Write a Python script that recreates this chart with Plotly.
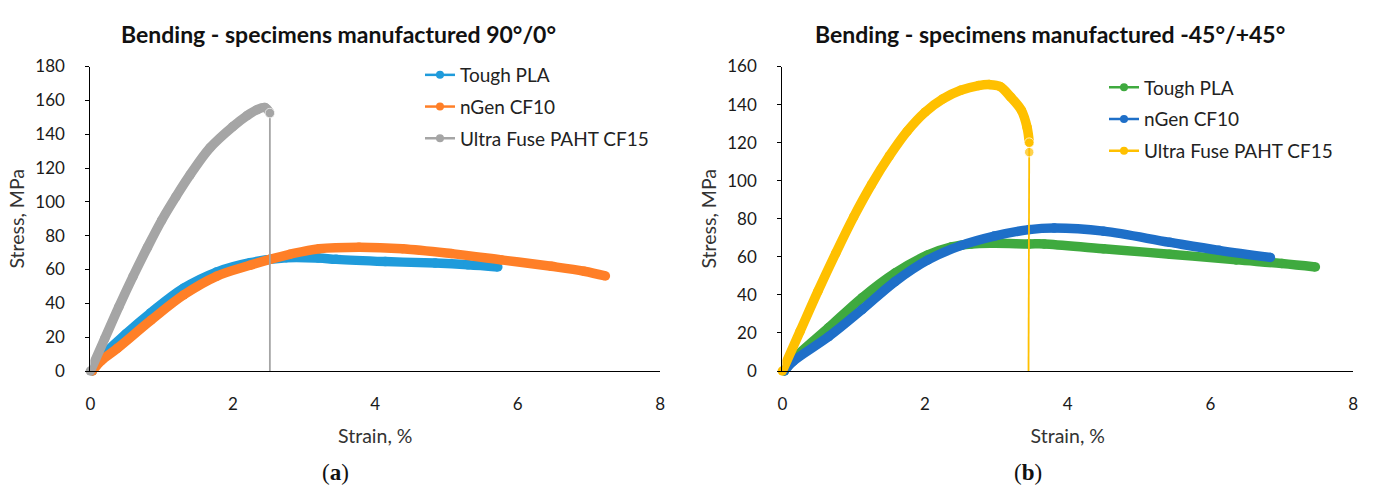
import plotly.graph_objects as go

# ---------------- data ----------------
series_names = ["Tough PLA", "nGen CF10", "Ultra Fuse PAHT CF15"]

# (a) specimens 90°/0°
pla_a_strain = [0.03, 0.15, 0.5, 0.85, 1.31, 1.77, 2.24, 2.75, 3.2, 3.45, 4.14, 4.84, 5.3, 5.72]
pla_a_stress = [0, 8, 22, 34.5, 49, 58.5, 64, 67, 66.8, 66, 64.7, 63.8, 62.8, 61.5]

ngen_a_strain = [0.03, 0.15, 0.38, 0.85, 1.31, 1.77, 2.24, 2.52, 2.8, 3.21, 3.77, 4.38, 5.07, 5.77, 6.47, 6.93, 7.23]
ngen_a_stress = [0, 6, 13.5, 30, 45, 56, 62.5, 66, 69, 72.3, 73.2, 72.3, 69.4, 65.7, 61.9, 59, 56.2]

paht_a_strain = [0, 0.2, 0.4, 0.6, 0.8, 1.0, 1.2, 1.4, 1.68, 2.0, 2.2, 2.33, 2.45, 2.52, 2.52]
paht_a_stress = [0, 19, 38, 56, 73, 89, 103, 116, 132, 144.5, 151, 154.3, 155.8, 152.5, 0]

# (b) specimens -45°/+45°
pla_b_strain = [0.03, 0.15, 0.65, 1.12, 1.58, 2.04, 2.37, 2.65, 2.97, 3.46, 3.67, 4.5, 5.43, 6.36, 7.0, 7.47]
pla_b_stress = [0, 6, 22.8, 38.6, 51.5, 61, 65.2, 66.8, 67.1, 66.8, 66.8, 64.2, 61.4, 58.4, 56.5, 54.7]

ngen_b_strain = [0.03, 0.15, 0.65, 1.12, 1.58, 2.04, 2.5, 2.97, 3.46, 3.81, 4.5, 5.43, 6.12, 6.84]
ngen_b_stress = [0, 5, 18.1, 32.4, 47, 58.4, 65.9, 70.9, 74.3, 75.1, 73.5, 67.6, 63.4, 59.7]

paht_b_strain = [0, 0.25, 0.5, 0.75, 1.0, 1.25, 1.5, 1.75, 2.0, 2.25, 2.5, 2.75, 2.9, 3.05, 3.2, 3.35, 3.43, 3.46, 3.46, 3.45]
paht_b_stress = [0, 21, 42, 62, 81, 98, 113, 126, 136, 143, 147.5, 150, 150.5, 149.5, 144, 137, 128, 120, 115, 0]

x_ticks = [0, 2, 4, 6, 8]
y_ticks_a = list(range(0, 181, 20))
y_ticks_b = list(range(0, 161, 20))

colors_a = ["#1F9BDB", "#FF7F27", "#A5A5A5"]
colors_b = ["#3FAA3F", "#1E6FC8", "#FFC000"]

titles = ["Bending - specimens manufactured 90°/0°", "Bending - specimens manufactured -45°/+45°"]

# ---------------- figure ----------------
W, H = 1384, 494
FONT = "Lato, 'Open Sans', sans-serif"
BAND = 9.5

fig = go.Figure()


def thick(x, y, color, xa, ya):
    fig.add_trace(go.Scatter(
        x=x, y=y, mode="lines+markers", xaxis=xa, yaxis=ya,
        line=dict(color=color, width=BAND, shape="spline", smoothing=1.0),
        marker=dict(color=color, size=BAND),
        showlegend=False, cliponaxis=False, hoverinfo="skip"))


def thin(x, y, color, xa, ya, sizes):
    fig.add_trace(go.Scatter(
        x=x, y=y, mode="lines+markers", xaxis=xa, yaxis=ya,
        line=dict(color=color, width=1.8),
        marker=dict(color=color, size=sizes),
        showlegend=False, cliponaxis=False, hoverinfo="skip"))


def legend_entry(name, color, legend):
    fig.add_trace(go.Scatter(
        x=[None], y=[None], mode="lines+markers", name=name, legend=legend,
        legendgroup=legend + name,
        line=dict(color=color, width=2.5), marker=dict(color=color, size=8)))


# panel (a)
thick(pla_a_strain, pla_a_stress, colors_a[0], "x", "y")
thick(ngen_a_strain, ngen_a_stress, colors_a[1], "x", "y")
thick(paht_a_strain[:-1], paht_a_stress[:-1], colors_a[2], "x", "y")
thin(paht_a_strain[-2:], paht_a_stress[-2:], colors_a[2], "x", "y", [BAND, 0])
for n, c in zip(series_names, colors_a):
    legend_entry(n, c, "legend")

# panel (b)
thick(pla_b_strain, pla_b_stress, colors_b[0], "x2", "y2")
thick(ngen_b_strain, ngen_b_stress, colors_b[1], "x2", "y2")
thick(paht_b_strain[:-2], paht_b_stress[:-2], colors_b[2], "x2", "y2")
thin(paht_b_strain[-3:], paht_b_stress[-3:], colors_b[2], "x2", "y2", [BAND, BAND, 0])
for n, c in zip(series_names, colors_b):
    legend_entry(n, c, "legend2")

ydom = [(H - 376) / H, (H - 58) / H]
xdom_a = [86 / W, 660 / W]
xdom_b = [783 / W, 1358 / W]

tickfont = dict(family=FONT, size=17, color="#1a1a1a")
titlefont = dict(family=FONT, size=19.5, color="#333333")


def xaxis(dom, anchor):
    return dict(domain=dom, anchor=anchor, range=[0, 8], tickvals=x_ticks,
                showgrid=False, zeroline=False, showline=True, linecolor="#000000",
                linewidth=1.2, ticks="", tickfont=tickfont, ticklabelstandoff=17,
                title=dict(text="Strain, %", font=titlefont, standoff=16))


def yaxis(rng, vals, anchor):
    return dict(domain=ydom, anchor=anchor, range=rng, tickvals=vals,
                showgrid=False, zeroline=False, showline=True, linecolor="#000000",
                linewidth=1.2, ticks="outside", ticklen=4, tickcolor="#000000",
                tickwidth=1.2, tickfont=tickfont, ticklabelstandoff=17,
                title=dict(text="Stress, MPa", font=titlefont, standoff=5))


def yover(rng, vals, anchor, over):
    return dict(domain=ydom, anchor=anchor, overlaying=over, range=rng, tickvals=vals,
                showgrid=False, zeroline=False, showline=False, showticklabels=False,
                ticks="inside", ticklen=7, tickcolor="#000000", tickwidth=1.2)


fig.update_layout(
    width=W, height=H,
    margin=dict(l=0, r=0, t=0, b=0),
    paper_bgcolor="white", plot_bgcolor="white",
    font=dict(family=FONT, color="#222222"),
    xaxis=xaxis(xdom_a, "y"),
    yaxis=yaxis([0, 180], y_ticks_a, "x"),
    xaxis2=xaxis(xdom_b, "y2"),
    yaxis2=yaxis([0, 160], y_ticks_b, "x2"),
    yaxis3=yover([0, 180], y_ticks_a, "x", "y"),
    yaxis4=yover([0, 160], y_ticks_b, "x2", "y2"),
    legend=dict(x=418 / W, y=1 - 47 / H, xanchor="left", yanchor="top",
                font=dict(family=FONT, size=19, color="#222222"),
                bgcolor="rgba(0,0,0,0)", traceorder="grouped", tracegroupgap=4),
    legend2=dict(x=1107 / W, y=1 - 60 / H, xanchor="left", yanchor="top",
                 font=dict(family=FONT, size=19, color="#222222"),
                 bgcolor="rgba(0,0,0,0)", traceorder="grouped", tracegroupgap=4),
    showlegend=True,
)

fig.add_annotation(text="<b>" + titles[0] + "</b>", x=336 / W, y=1 - 24 / H,
                   xref="paper", yref="paper", showarrow=False,
                   xanchor="center", yanchor="middle",
                   font=dict(family=FONT, size=23, color="#111111"))
fig.add_annotation(text="<b>" + titles[1] + "</b>", x=1053 / W, y=1 - 24 / H,
                   xref="paper", yref="paper", showarrow=False,
                   xanchor="center", yanchor="middle",
                   font=dict(family=FONT, size=23, color="#111111"))

capfont = dict(family="'Liberation Serif', 'Times New Roman', serif", size=23, color="#111111")
fig.add_annotation(text="(<b>a</b>)", x=333 / W, y=1 - 482 / H, xref="paper", yref="paper",
                   showarrow=False, xanchor="center", yanchor="middle", font=capfont)
fig.add_annotation(text="(<b>b</b>)", x=1030 / W, y=1 - 482 / H, xref="paper", yref="paper",
                   showarrow=False, xanchor="center", yanchor="middle", font=capfont)

fig.write_html("out.html")
